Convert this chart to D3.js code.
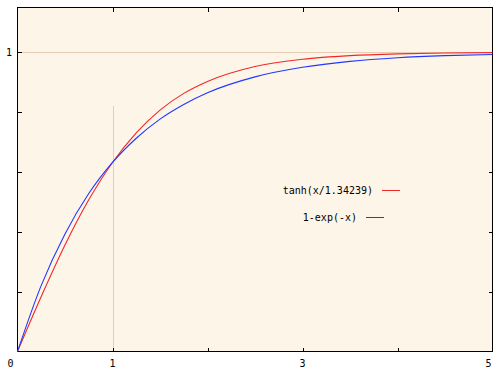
<!DOCTYPE html>
<html>
<head>
<meta charset="utf-8">
<script src="https://cdn.jsdelivr.net/npm/d3@7"></script>
<style>
  body { margin: 0; background: #fff; }
  text { font-family: "DejaVu Sans Mono", monospace; font-size: 10px; fill: #000; }
</style>
</head>
<body>
<div id="chart"></div>
<script>
// values
var xs      = [0, 0.25, 0.5, 0.75, 1, 1.25, 1.5, 1.75, 2, 2.5, 3, 3.5, 4, 4.5, 5];
var tanhY   = [0, 0.184, 0.356, 0.507, 0.632, 0.731, 0.807, 0.863, 0.903, 0.953, 0.977, 0.989, 0.995, 0.998, 0.999];
var expY    = [0, 0.221, 0.393, 0.528, 0.632, 0.713, 0.777, 0.826, 0.865, 0.918, 0.950, 0.970, 0.982, 0.989, 0.993];
var seriesNames = ["tanh(x/1.34239)", "1-exp(-x)"];
var xTicks  = [1, 2, 3, 4];
var yTicks  = [0.2, 0.4, 0.6, 0.8, 1];
var xLabels = [0, 1, 3, 5];
var yLabels = [1];
var markX = 1, markTop = 0.82;

window.onload = function () {
  var W = 502, H = 372;
  var left = 17.5, right = 492.5, top = 7.5, bottom = 351.5;

  var x = d3.scaleLinear().domain([0, 5]).range([left, right]);
  var y = d3.scaleLinear().domain([0, 1.15]).range([bottom, top]);

  var svg = d3.select("#chart").append("svg")
    .attr("width", W)
    .attr("height", H);

  svg.append("rect")
    .attr("x", left).attr("y", top)
    .attr("width", right - left).attr("height", bottom - top)
    .attr("fill", "#fef5e9");

  // grid line at y=1 and the marker at x=1
  svg.append("line")
    .attr("x1", left).attr("x2", right)
    .attr("y1", Math.round(y(1)) + 0.5).attr("y2", Math.round(y(1)) + 0.5)
    .attr("stroke", "#e6cdb4").attr("shape-rendering", "crispEdges");
  svg.append("line")
    .attr("x1", Math.round(x(markX)) + 0.5).attr("x2", Math.round(x(markX)) + 0.5)
    .attr("y1", y(0)).attr("y2", y(markTop))
    .attr("stroke", "#e6cdb4").attr("shape-rendering", "crispEdges");

  // ticks, drawn inward on all four sides
  var tickOpts = function (ax) { return ax.tickSize(-4).tickFormat("").tickSizeOuter(0); };
  svg.append("g").attr("class", "ax")
    .attr("transform", "translate(0," + bottom + ")")
    .call(tickOpts(d3.axisBottom(x).tickValues(xTicks)));
  svg.append("g").attr("class", "ax")
    .attr("transform", "translate(0," + top + ")")
    .call(tickOpts(d3.axisTop(x).tickValues(xTicks)));
  svg.append("g").attr("class", "ax")
    .attr("transform", "translate(" + left + ",0)")
    .call(tickOpts(d3.axisLeft(y).tickValues(yTicks)));
  svg.append("g").attr("class", "ax")
    .attr("transform", "translate(" + right + ",0)")
    .call(tickOpts(d3.axisRight(y).tickValues(yTicks)));
  svg.selectAll(".ax .domain").remove();
  svg.selectAll(".ax line").attr("stroke", "#000").attr("shape-rendering", "crispEdges");

  svg.append("rect")
    .attr("x", left).attr("y", top)
    .attr("width", right - left).attr("height", bottom - top)
    .attr("fill", "none").attr("stroke", "#000")
    .attr("shape-rendering", "crispEdges");

  // tick labels
  svg.selectAll(".xl").data(xLabels).enter().append("text")
    .attr("x", function (d) { return d == 0 ? x(d) - 7 : d == 5 ? x(d) - 4 : x(d); })
    .attr("y", 367)
    .attr("text-anchor", "middle")
    .text(function (d) { return d; });
  svg.selectAll(".yl").data(yLabels).enter().append("text")
    .attr("x", 12)
    .attr("y", function (d) { return y(d) + 4; })
    .attr("text-anchor", "end")
    .text(function (d) { return d; });

  // curves
  var data = [
    { name: seriesNames[0], vals: tanhY, color: "#f02828", lx: 373, ly: 190 },
    { name: seriesNames[1], vals: expY,  color: "#2038ff", lx: 357, ly: 217 }
  ];
  var line = d3.line()
    .x(function (d, i) { return x(xs[i]); })
    .y(function (d) { return y(d); })
    .curve(d3.curveMonotoneX);

  data.forEach(function (s) {
    svg.append("path")
      .attr("d", line(s.vals))
      .attr("fill", "none")
      .attr("stroke", s.color)
      .attr("stroke-width", 1.1);
    svg.append("text")
      .attr("x", s.lx).attr("y", s.ly + 4)
      .attr("text-anchor", "end")
      .text(s.name);
    svg.append("line")
      .attr("x1", s.lx + 9).attr("x2", s.lx + 27)
      .attr("y1", s.ly + 0.5).attr("y2", s.ly + 0.5)
      .attr("stroke", s.color).attr("shape-rendering", "crispEdges");
  });
};
</script>
</body>
</html>
